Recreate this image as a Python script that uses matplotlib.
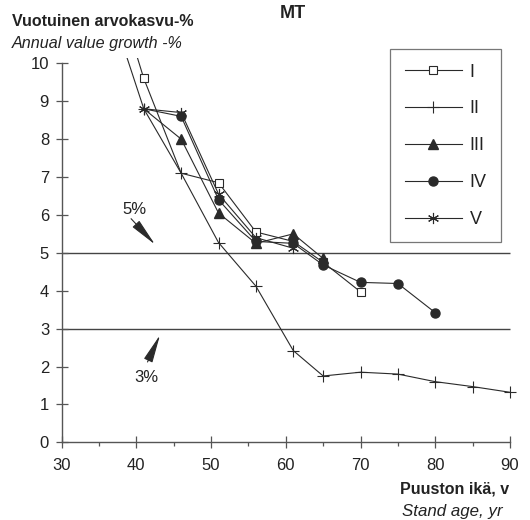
import matplotlib
matplotlib.use("Agg")
import matplotlib.pyplot as plt
from matplotlib.lines import Line2D

plt.rcParams['font.family'] = ['Liberation Sans', 'DejaVu Sans']

# stand age (yr) and annual value growth (%) per site class
ages_I = [36, 41, 46, 51, 56, 61, 65, 70]
growth_I = [12.8, 9.6, 7.1, 6.85, 5.55, 5.3, 4.75, 3.97]
ages_II = [36, 41, 46, 51, 56, 61, 65, 70, 75, 80, 85, 90]
growth_II = [11.8, 8.8, 7.1, 5.27, 4.12, 2.42, 1.75, 1.85, 1.8, 1.6, 1.47, 1.32]
ages_III = [41, 46, 51, 56, 61, 65]
growth_III = [8.8, 8.0, 6.05, 5.25, 5.5, 4.85]
ages_IV = [41, 46, 51, 56, 61, 65, 70, 75, 80]
growth_IV = [8.8, 8.6, 6.4, 5.3, 5.25, 4.68, 4.22, 4.19, 3.42]
ages_V = [41, 46, 51, 56, 61]
growth_V = [8.8, 8.7, 6.55, 5.4, 5.12]

x_ticks = [30, 40, 50, 60, 70, 80, 90]
y_ticks = list(range(0, 11))
ref_levels = [5, 3]

INK = '#2a2a2a'
AXC = '#555555'
TXT = '#222222'

fig = plt.figure(figsize=(5.3, 5.2), dpi=100)
ax = fig.add_axes([0.1162, 0.1494, 0.8672, 0.7398])

# reference levels 5 % and 3 %
ax.hlines(ref_levels, 30, 90, color='#444444', lw=1.0, zorder=1)

lw = 0.8
ax.plot(ages_I, growth_I, color=INK, lw=lw, marker='s', ms=6, mfc='white',
        mec=INK, mew=0.8, markevery=[1, 3, 4, 5, 6, 7], zorder=3)
ax.plot(ages_II, growth_II, color=INK, lw=lw, marker='+', ms=8, mew=0.8,
        zorder=3)
ax.plot(ages_III, growth_III, color=INK, lw=lw, marker='^', ms=6.5, mfc=INK,
        mec=INK, markevery=list(range(1, len(ages_III))), zorder=3)
ax.plot(ages_IV, growth_IV, color=INK, lw=lw, marker='o', ms=6.5, mfc=INK,
        mec=INK, markevery=list(range(1, len(ages_IV))), zorder=3)
ax.plot(ages_V, growth_V, color=INK, lw=lw, marker=(6, 2, 0), ms=8, mew=0.8,
        mec=INK, zorder=4)

ax.set_xlim(30, 91.5)
ax.set_ylim(0, 10.15)
ax.set_xticks(x_ticks)
ax.set_xticks(range(35, 90, 10), minor=True)
ax.set_yticks(y_ticks)

for s in ['top', 'right']:
    ax.spines[s].set_visible(False)
for s in ['left', 'bottom']:
    ax.spines[s].set_color(AXC)
    ax.spines[s].set_linewidth(1.0)
ax.spines['left'].set_bounds(0, 10)
ax.spines['bottom'].set_bounds(30, 90)

ax.tick_params(which='major', direction='inout', length=8, width=0.9,
               color=AXC, labelsize=12, labelcolor=TXT, pad=5)
ax.tick_params(axis='x', which='major', pad=7)
ax.tick_params(which='minor', direction='out', length=3, width=0.9, color=AXC)

# labels for reference levels, arrows drawn separately from the text
arrow = dict(arrowstyle='-|>,head_length=1.45,head_width=0.24', color=INK,
             lw=0.8, shrinkA=0, shrinkB=0, mutation_scale=12)
ax.text(39.7, 6.13, '5%', fontsize=12, color=TXT, ha='center', va='center')
ax.annotate('', xy=(42.5, 5.22), xytext=(39.3, 5.9), arrowprops=arrow)
ax.text(41.3, 1.72, '3%', fontsize=12, color=TXT, ha='center', va='center')
ax.annotate('', xy=(43.17, 2.83), xytext=(41.5, 2.12), arrowprops=arrow)

# legend
handles = [
    Line2D([], [], color=INK, lw=lw, marker='s', ms=6, mfc='white', mec=INK, mew=0.8),
    Line2D([], [], color=INK, lw=lw, marker='+', ms=8, mew=0.8),
    Line2D([], [], color=INK, lw=lw, marker='^', ms=6.5, mfc=INK, mec=INK),
    Line2D([], [], color=INK, lw=lw, marker='o', ms=6.5, mfc=INK, mec=INK),
    Line2D([], [], color=INK, lw=lw, marker=(6, 2, 0), ms=8, mew=0.8, mec=INK),
]
leg = ax.legend(handles, ['I', 'II', 'III', 'IV', 'V'], loc='upper right',
                bbox_to_anchor=(0.956, 1.022), fontsize=13, frameon=True,
                fancybox=False, edgecolor='#555555', handlelength=3.15,
                handletextpad=0.44, labelspacing=1.1, borderpad=0.8,
                borderaxespad=0)
leg.get_frame().set_linewidth(0.9)
for t in leg.get_texts():
    t.set_color(TXT)

# titles and axis captions
fig.text(0.553, 0.975, 'MT', fontsize=13, fontweight='bold', ha='center',
         va='center', color=TXT)
fig.text(0.023, 0.958, 'Vuotuinen arvokasvu-%', fontsize=11.5, fontweight='bold',
         ha='left', va='center', color=TXT)
fig.text(0.023, 0.917, 'Annual value growth -%', fontsize=11.6, style='italic',
         ha='left', va='center', color=TXT)
fig.text(0.960, 0.059, 'Puuston ikä, v', fontsize=11.5, fontweight='bold',
         ha='right', va='center', color=TXT)
fig.text(0.758, 0.017, 'Stand age, yr', fontsize=12.2, style='italic',
         ha='left', va='center', color=TXT)

fig.savefig('out.png', dpi=100)
